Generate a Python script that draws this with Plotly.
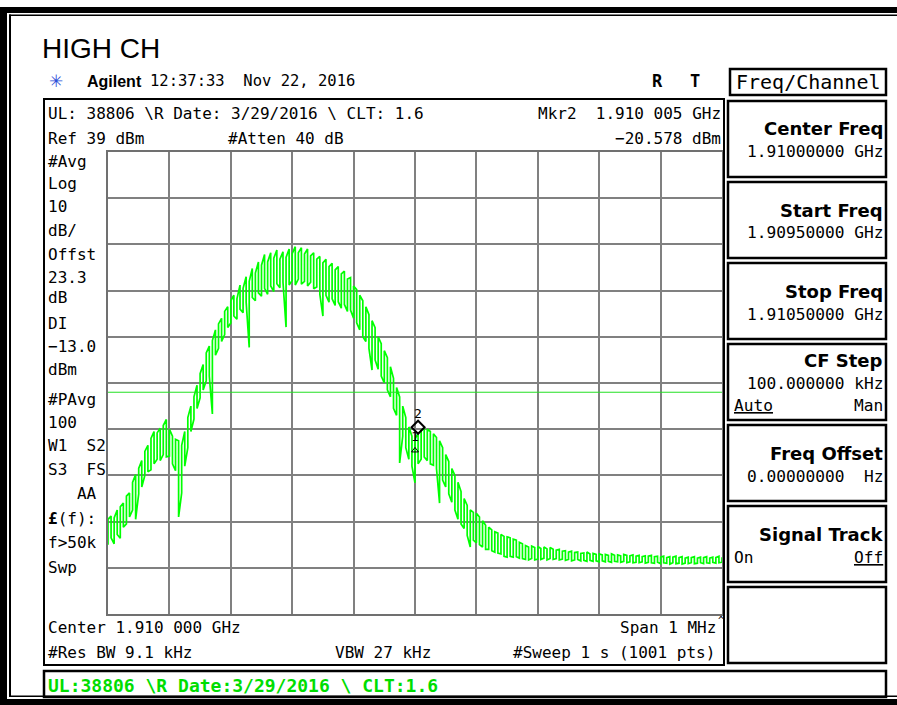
"""
Spectrum analyzer screen capture - HIGH CH occupied bandwidth plot
"""
import numpy as np
import plotly.graph_objects as go

start_ghz = 1.9095
stop_ghz = 1.9105
ref_level = 39        # dBm, top of screen
db_per_div = 10
display_line = -13.0  # dBm

# trace read as per-bin peak / trough, 5 kHz bins (201 bins across the span), dBm
trace_hi = [
    -40.5, -39.8, -40.2, -38.5, -37.8, -37.0, -35.5, -34.8, -32.5, -30.8,
    -29.5, -27.8, -25.8, -24.5, -23.0, -21.5, -21.8, -20.8, -20.2, -18.9,
    -21.0, -22.5, -23.2, -23.5, -24.5, -21.5, -18.5, -16.0, -14.0, -11.5,
    -9.0, -7.0, -4.5, -3.0, -1.8, 0.5, 1.8, 3.0, 4.5, 5.5,
    6.8, 8.0, 7.2, 10.2, 9.5, 12.0, 11.0, 13.8, 12.8, 15.2,
    14.5, 16.8, 15.2, 17.2, 16.0, 17.8, 15.8, 17.4, 16.2, 18.0,
    17.0, 18.5, 17.2, 18.3, 16.9, 18.0, 16.5, 17.2, 15.8, 16.4,
    15.0, 15.8, 14.2, 14.9, 13.5, 14.2, 12.6, 13.2, 11.5, 11.8,
    10.0, 9.2, 8.0, 6.8, 5.5, 3.8, 2.5, 1.0, -1.0, -2.5,
    -4.0, -5.5, -7.5, -10.0, -12.0, -14.0, -16.0, -18.5, -20.5, -22.5,
    -23.0, -22.0, -21.2, -20.8, -21.0, -21.5, -22.0, -22.8, -23.5, -25.0,
    -26.5, -28.0, -29.5, -31.0, -32.5, -34.5, -36.0, -37.5, -38.5, -39.0,
    -39.2, -40.0, -40.8, -41.8, -42.2, -42.8, -43.2, -43.5, -43.8, -44.2,
    -44.3, -44.5, -44.8, -45.0, -45.5, -45.8, -46.2, -46.5, -46.3, -46.6,
    -46.4, -46.8, -46.5, -46.9, -46.6, -47.0, -47.2, -47.0, -47.4, -47.3,
    -47.6, -47.4, -47.7, -47.6, -47.9, -47.8, -47.6, -48.0, -47.9, -48.1,
    -48.0, -48.2, -48.1, -48.3, -48.0, -48.3, -48.2, -48.4, -48.1, -48.3,
    -48.4, -48.2, -48.5, -48.3, -48.6, -48.4, -48.5, -48.3, -48.6, -48.5,
    -48.7, -48.5, -48.8, -48.6, -48.7, -48.5, -48.8, -48.6, -48.9, -48.7,
    -48.8, -48.6, -48.9, -48.7, -48.8, -48.6, -48.9, -48.7, -48.8, -48.5,
    -48.7,
]
trace_lo = [
    -46.0, -44.5, -45.8, -43.8, -44.6, -42.2, -41.5, -40.0, -38.5, -40.5,
    -35.0, -33.5, -31.0, -30.2, -29.8, -28.5, -27.5, -27.8, -26.5, -27.0,
    -26.8, -28.5, -30.0, -40.0, -34.8, -29.0, -25.0, -21.5, -18.8, -16.5,
    -14.2, -12.5, -10.5, -9.5, -17.7, -5.0, -3.5, -2.0, -0.5, 1.0,
    2.0, 3.5, 2.8, 5.0, 4.2, 6.5, -3.3, 7.5, 6.8, 8.5,
    7.8, 9.5, 8.2, 10.0, 8.8, 10.5, 9.6, 10.8, 1.1, 10.2,
    11.2, 10.2, 11.5, 10.4, 11.0, 10.0, 10.8, 9.4, 9.8, 8.2,
    3.5, 8.0, 6.5, 7.2, 5.8, 6.6, 5.2, 6.0, 4.5, 4.8,
    3.0, 2.0, 0.5, -1.0, -2.0, -3.5, -8.2, -6.0, -8.0, -9.5,
    -11.0, -12.5, -14.0, -16.5, -18.0, -28.3, -22.5, -25.0, -27.5, -29.0,
    -32.6, -28.5, -27.5, -27.0, -27.8, -28.5, -28.8, -29.5, -37.0, -32.0,
    -33.5, -35.0, -36.8, -38.5, -40.5, -41.5, -42.5, -44.0, -46.5, -45.0,
    -45.6, -46.0, -46.5, -47.0, -47.0, -47.3, -47.6, -47.8, -48.0, -48.5,
    -48.7, -48.5, -48.7, -48.6, -48.9, -49.0, -49.2, -49.3, -49.0, -49.3,
    -49.1, -49.2, -48.9, -49.3, -49.0, -49.2, -49.0, -49.3, -49.1, -49.4,
    -49.2, -49.5, -49.3, -49.2, -49.5, -49.4, -49.6, -49.4, -49.6, -49.5,
    -49.7, -49.5, -49.7, -49.6, -49.8, -49.6, -49.7, -49.8, -49.6, -49.9,
    -49.7, -49.9, -49.8, -49.9, -49.7, -50.0, -49.8, -49.9, -50.0, -49.8,
    -50.1, -49.9, -50.0, -50.2, -49.9, -50.1, -50.0, -50.2, -50.0, -50.1,
    -49.9, -50.1, -50.0, -49.9, -50.1, -49.9, -50.0, -49.8, -50.0, -49.9,
    -49.8,
]

marker_names = ["1", "2"]
marker_freq = [1.910000, 1.910005]
marker_dbm = [-25.6, -20.578]

left_labels = ["#Avg", "Log", "10", "dB/", "Offst", "23.3", "dB", "DI",
               "\u221213.0", "dBm", "#PAvg", "100", "W1\u00a0\u00a0S2",
               "S3\u00a0\u00a0FS", "\u00a0\u00a0\u00a0AA", "<b>\u00a3</b>(f):",
               "f>50k", "Swp"]
left_label_y = [161, 184, 207, 230, 255, 277, 298, 323, 347, 369, 399, 422,
                445, 469, 493, 518, 542, 567]

softkey_titles = ["Center Freq", "Start Freq", "Stop Freq", "CF Step",
                  "Freq Offset", "Signal Track", ""]
softkey_values = ["1.91000000 GHz", "1.90950000 GHz", "1.91050000 GHz",
                  "100.000000 kHz", "0.00000000\u00a0\u00a0Hz", "", ""]
softkey_top = [101, 182, 263, 344, 425, 506, 587]

# ---- page geometry (pixels of the 897x705 capture) ----
W, H = 897, 705
MONO = "DejaVu Sans Mono"
SANS = "Liberation Sans, Arial"


def px(x):
    return x / W


def py(y):
    return 1 - y / H


def text(x, y, s, size=16, anchor="left", color="black", family=MONO):
    return dict(x=px(x), y=py(y), xref="paper", yref="paper", text=s,
                showarrow=False, xanchor=anchor, yanchor="middle",
                font=dict(family=family, size=size, color=color),
                borderpad=0)


def rect(x0, y0, x1, y1, width=2.5, fill=None, color="black"):
    return dict(type="rect", xref="paper", yref="paper",
                x0=px(x0), y0=py(y0), x1=px(x1), y1=py(y1),
                line=dict(color=color, width=width),
                fillcolor=fill if fill else "rgba(0,0,0,0)")


# sweep bins; each bin drawn as a vertical stroke trough->peak, like the
# analyzer's dense 1001-point trace
freqs = np.linspace(start_ghz, stop_ghz, len(trace_hi))
tx, ty = [], []
for i, f in enumerate(freqs):
    tx += [f, f]
    if i % 2 == 0:
        ty += [trace_lo[i], trace_hi[i]]
    else:
        ty += [trace_hi[i], trace_lo[i]]

fig = go.Figure()
fig.add_trace(go.Scatter(x=tx, y=ty, mode="lines",
                         line=dict(color="#00ff00", width=1.7),
                         hoverinfo="skip"))
# markers
fig.add_trace(go.Scatter(x=[marker_freq[1]], y=[marker_dbm[1]], mode="markers",
                         marker=dict(symbol="diamond-open", size=10,
                                     color="black", line=dict(width=2))))
fig.add_trace(go.Scatter(x=[marker_freq[0]], y=[marker_dbm[0]], mode="markers",
                         marker=dict(symbol="triangle-up-open", size=6,
                                     color="black", line=dict(width=1))))

shapes = []
# outer page frame
shapes.append(rect(0, 7, 7, 705, width=0, fill="black"))
shapes.append(rect(0, 7, 897, 13, width=0, fill="black"))
shapes.append(rect(0, 699, 897, 705, width=0, fill="black"))
shapes.append(rect(9, 14.5, 11, 697, width=0, fill="black"))
shapes.append(rect(9, 14.5, 897, 16, width=0, fill="black"))
shapes.append(rect(9, 695.5, 897, 697, width=0, fill="black"))
# instrument boxes
shapes.append(rect(44, 99, 724, 665, width=2))
shapes.append(rect(44, 671, 886, 697, width=2.5))
shapes.append(rect(730, 69, 886, 95, width=2.5))
for top in softkey_top:
    shapes.append(rect(728, top, 886, top + 76, width=2.5))
# display line
shapes.append(dict(type="line", xref="x domain", yref="y", x0=0, x1=1,
                   y0=display_line, y1=display_line,
                   line=dict(color="#22e022", width=1)))

ann = []
ann.append(text(41, 49, "HIGH CH", size=28, family=SANS))
ann.append(text(56, 81, "\u2733", size=17, anchor="center", color="#2a4bd8",
                family="DejaVu Sans"))
ann.append(text(86, 81, "<b>Agilent</b>", size=16, family=SANS))
ann.append(text(149, 81, "12:37:33\u00a0\u00a0Nov 22, 2016", size=15.5))
ann.append(text(657, 81, "<b>R</b>", size=17, anchor="center"))
ann.append(text(695, 81, "<b>T</b>", size=17, anchor="center"))
ann.append(text(808, 82, "Freq/Channel", size=20, anchor="center"))

ann.append(text(47, 113, "UL: 38806 \\R Date: 3/29/2016 \\ CLT: 1.6"))
ann.append(text(722, 113, "Mkr2\u00a0\u00a01.910 005 GHz", anchor="right"))
ann.append(text(47, 138, "Ref 39 dBm"))
ann.append(text(227, 138, "#Atten 40 dB"))
ann.append(text(722, 138, "\u221220.578 dBm", anchor="right"))
for lab, yy in zip(left_labels, left_label_y):
    ann.append(text(47, yy, lab))
ann.append(text(47, 627, "Center 1.910 000 GHz"))
ann.append(text(717, 627, "Span 1 MHz", anchor="right"))
ann.append(text(721, 620, "^", size=10, anchor="center"))
ann.append(text(47, 652, "#Res BW 9.1 kHz"))
ann.append(text(334, 652, "VBW 27 kHz"))
ann.append(text(716, 652, "#Sweep 1 s (1001 pts)", anchor="right"))
ann.append(text(47, 685, "<b>UL:38806 \\R Date:3/29/2016 \\ CLT:1.6</b>",
                size=18, color="#00dd00"))

for title, val, top in zip(softkey_titles, softkey_values, softkey_top):
    three_rows = title == "CF Step"
    if title:
        ann.append(text(884, top + (16 if three_rows else 28),
                        "<b>" + title + "</b>", size=18, anchor="right",
                        family="DejaVu Sans"))
    if val:
        ann.append(text(884, top + (39 if three_rows else 51), val,
                        size=16.2, anchor="right"))
ann.append(text(733, 405, "<u>Auto</u>", size=16.2))
ann.append(text(884, 405, "Man", size=16.2, anchor="right"))
ann.append(text(733, 557, "On", size=16.2))
ann.append(text(884, 557, "<u>Off</u>", size=16.2, anchor="right"))

# marker numbers
for name, f, v in zip(marker_names, marker_freq, marker_dbm):
    ann.append(dict(x=f, y=v, xref="x", yref="y", text=name, showarrow=False,
                    yshift=14, font=dict(family=MONO, size=13, color="black")))

fig.update_layout(
    width=W, height=H, autosize=False,
    margin=dict(l=0, r=0, t=0, b=0),
    paper_bgcolor="white", plot_bgcolor="white",
    showlegend=False,
    shapes=shapes, annotations=ann,
    xaxis=dict(domain=[px(108), px(722)], range=[start_ghz, stop_ghz],
               dtick=(stop_ghz - start_ghz) / 10, tick0=start_ghz,
               showgrid=True, gridcolor="#808080", gridwidth=1.5,
               showline=True, linecolor="#707070", linewidth=2, mirror=True,
               showticklabels=False, ticks="", zeroline=False, fixedrange=True),
    yaxis=dict(domain=[py(614), py(152)],
               range=[ref_level - 10 * db_per_div, ref_level],
               dtick=db_per_div, tick0=ref_level,
               showgrid=True, gridcolor="#808080", gridwidth=1.5,
               showline=True, linecolor="#707070", linewidth=2, mirror=True,
               showticklabels=False, ticks="", zeroline=False, fixedrange=True),
)

# the page body's default 8px margin would push the capture off the window
fig.write_html("out.html", config={"displayModeBar": False},
               post_script="document.body.style.margin='0';")
